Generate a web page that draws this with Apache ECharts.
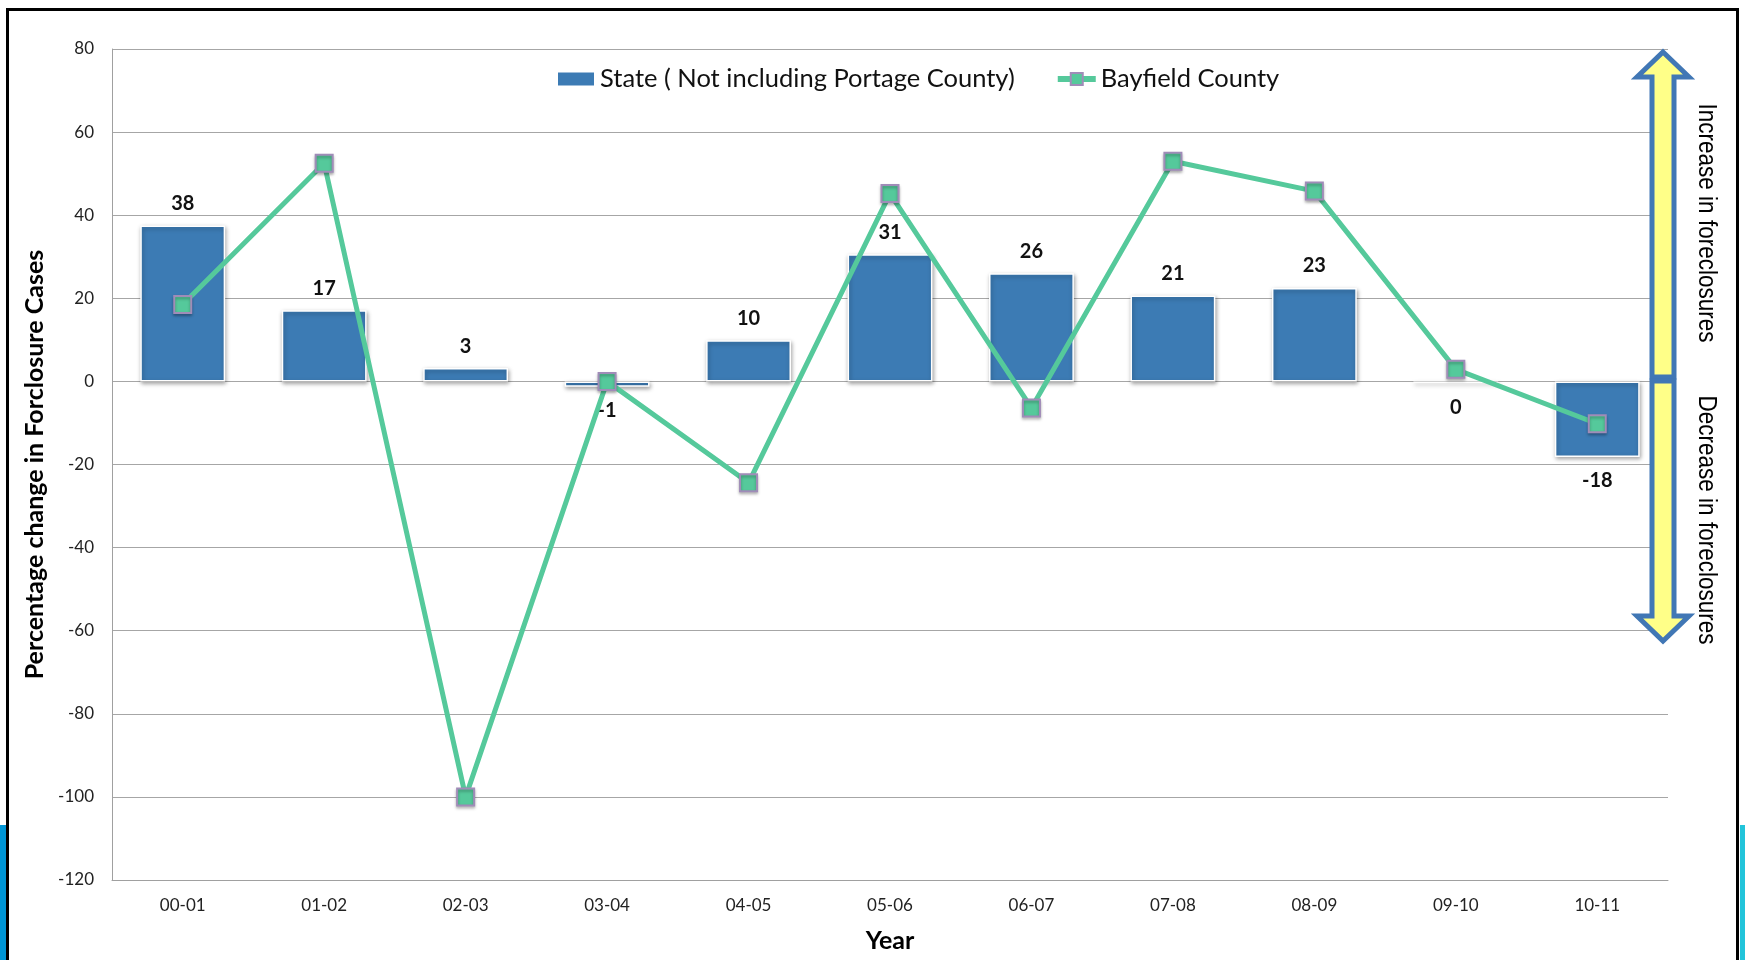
<!DOCTYPE html>
<html>
<head>
<meta charset="utf-8">
<title>Foreclosure change</title>
<script src="https://cdn.jsdelivr.net/npm/echarts@6/dist/echarts.min.js"></script>
<style>
  html, body { margin: 0; padding: 0; background: #fff; }
  #chart { width: 1745px; height: 960px; }
</style>
</head>
<body>
<div id="chart"></div>
<script>
// data
const years = ['00-01', '01-02', '02-03', '03-04', '04-05', '05-06', '06-07', '07-08', '08-09', '09-10', '10-11']
const stateValues = [37.5, 17.1, 3.2, -1.3, 9.9, 30.6, 26.0, 20.7, 22.5, -0.4, -18.2]
const bayfieldValues = [18.5, 52.5, -100, 0, -24.4, 45.2, -6.4, 53, 45.8, 2.9, -10.2]
const yTicks = [-120, -100, -80, -60, -40, -20, 0, 20, 40, 60, 80]

const barColor = '#3c7bb4'
const lineColor = '#55c99b'

const chart = echarts.init(document.getElementById('chart'))

// labels above positive bars, below negative ones
const stateData = stateValues.map(v => ({
  value: v,
  label: { position: v < 0 ? 'bottom' : 'top', distance: v < 0 ? 14 : 12 }
}))

// narrow side text, squeezed along its length
function sideText (text, y) {
  return {
    type: 'text',
    x: 1706,
    y: y,
    rotation: -Math.PI / 2,
    scaleX: 0.9,
    style: {
      text: text,
      fontFamily: 'Liberation Sans, Arial, sans-serif',
      fontSize: 25,
      fill: '#000',
      align: 'center',
      verticalAlign: 'middle'
    },
    z: 100
  }
}

chart.setOption({
  backgroundColor: '#fff',
  textStyle: { fontFamily: 'Lato' },
  grid: { left: 112, top: 49, width: 1556, height: 831 },
  legend: {
    left: 551,
    top: 61,
    itemWidth: 38,
    itemHeight: 15,
    itemGap: 40,
    textStyle: { fontSize: 25.5, color: '#111', fontFamily: 'Lato' },
    data: [
      { name: 'State ( Not including Portage County)', icon: 'rect' },
      { name: 'Bayfield County' }
    ],
    lineStyle: { width: 6 }
  },
  xAxis: {
    type: 'category',
    data: years,
    name: 'Year',
    nameLocation: 'middle',
    nameGap: 48,
    nameTextStyle: { fontSize: 25, fontWeight: 'bold', color: '#000' },
    axisLine: { onZero: false, lineStyle: { color: '#a0a0a0' } },
    axisTick: { show: false },
    axisLabel: { margin: 17, fontSize: 17, color: '#222' }
  },
  yAxis: {
    type: 'value',
    min: yTicks[0],
    max: yTicks[yTicks.length - 1],
    interval: 20,
    name: 'Percentage change in Forclosure Cases',
    nameLocation: 'middle',
    nameGap: 63,
    nameTextStyle: { fontSize: 25, fontWeight: 'bold', color: '#000' },
    axisLine: { show: true, lineStyle: { color: '#a0a0a0' } },
    axisTick: { show: false },
    splitLine: { lineStyle: { color: '#a6a6a6' } },
    axisLabel: { margin: 18, fontSize: 17, color: '#222' }
  },
  series: [
    {
      name: 'State ( Not including Portage County)',
      type: 'bar',
      barWidth: '60%',
      data: stateData,
      itemStyle: {
        color: barColor,
        borderColor: '#fff',
        borderWidth: 1.5,
        shadowColor: 'rgba(0,0,0,0.35)',
        shadowBlur: 4,
        shadowOffsetX: 1,
        shadowOffsetY: 2
      },
      label: {
        show: true,
        fontSize: 20,
        fontWeight: 'bold',
        color: '#111',
        formatter: p => String(Math.round(p.value))
      },
      z: 2
    },
    {
      name: 'Bayfield County',
      type: 'line',
      data: bayfieldValues,
      symbol: 'rect',
      symbolSize: 17,
      lineStyle: { color: lineColor, width: 5 },
      itemStyle: {
        color: lineColor,
        borderColor: '#a08cb8',
        borderWidth: 2,
        shadowColor: 'rgba(0,0,0,0.3)',
        shadowBlur: 3,
        shadowOffsetY: 2
      },
      z: 3
    }
  ],
  graphic: [
    // slide frame and side strips
    { type: 'rect', shape: { x: 0, y: 825, width: 6, height: 135 }, style: { fill: '#0096d6' }, z: 100 },
    { type: 'rect', shape: { x: 1740, y: 825, width: 5, height: 135 }, style: { fill: '#22c4da' }, z: 100 },
    { type: 'rect', shape: { x: 7.5, y: 9.5, width: 1730, height: 980 }, style: { fill: null, stroke: '#000', lineWidth: 3 }, z: 100 },
    // up / down arrows on the right
    {
      type: 'polygon',
      shape: { points: [[1663, 52], [1689, 77], [1674, 77], [1674, 377], [1652, 377], [1652, 77], [1637, 77]] },
      style: { fill: '#ffff88', stroke: '#4177b5', lineWidth: 5 },
      z: 100
    },
    {
      type: 'polygon',
      shape: { points: [[1652, 381], [1674, 381], [1674, 616], [1689, 616], [1663, 641], [1637, 616], [1652, 616]] },
      style: { fill: '#ffff88', stroke: '#4177b5', lineWidth: 5 },
      z: 100
    },
    sideText('Increase in foreclosures', 223),
    sideText('Decrease in foreclosures', 520)
  ]
})
</script>
</body>
</html>
